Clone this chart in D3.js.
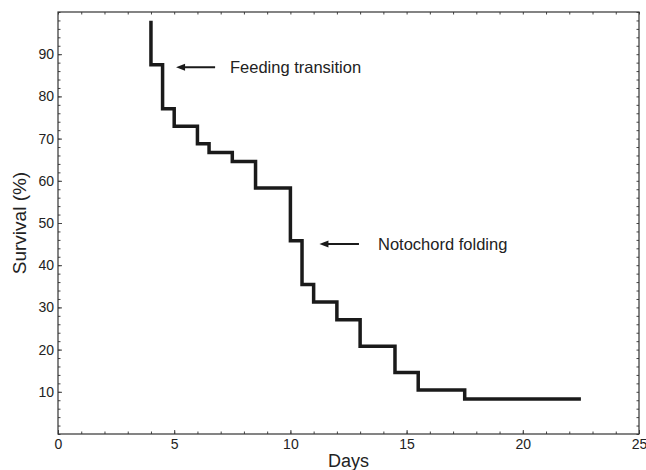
<!DOCTYPE html>
<html>
<head>
<meta charset="utf-8">
<script src="https://cdn.jsdelivr.net/npm/d3@7"></script>
<style>
  body { margin: 0; background: #fff; }
  svg { display: block; font-family: "Liberation Sans", Arial, Helvetica, sans-serif; }
</style>
</head>
<body>
<div id="chart"></div>
<script>
// Survival curve (step)
const days = [4, 4, 4.5, 5, 6, 6.5, 7.5, 8.5, 10, 10.5, 11, 12, 13, 14.5, 15.5, 17.5, 22.5];
const survival = [97.9, 87.5, 77.1, 72.9, 68.8, 66.7, 64.6, 58.3, 45.8, 35.4, 31.3, 27.1, 20.8, 14.6, 10.4, 8.3, 8.3];

const xTicks = [0, 5, 10, 15, 20, 25];
const yTicks = [10, 20, 30, 40, 50, 60, 70, 80, 90];

// annotations: label, arrow tail/head (days), arrow level (survival), text start (days)
const noteLabels = ["Feeding transition", "Notochord folding"];
const noteTail = [6.76, 12.95];
const noteHead = [5.08, 11.25];
const noteLevel = [86.9, 45.0];
const noteTextX = [7.4, 13.77];

const W = 646, H = 470;
const margin = {top: 12, right: 7, bottom: 36, left: 58};
const width = W - margin.left - margin.right;
const height = H - margin.top - margin.bottom;

const svg = d3.select("#chart").append("svg")
	.attr("width", W)
	.attr("height", H);

const g = svg.append("g").attr("transform", `translate(${margin.left},${margin.top})`);

const x = d3.scaleLinear().domain([0, 25]).range([0, width]);
const y = d3.scaleLinear().domain([0, 100]).range([height, 0]);

const minorX = d3.range(0, 26, 1);
const minorY = d3.range(0, 101, 2);

function styleAxis(sel) {
	sel.select(".domain").remove();
	sel.selectAll(".tick line").attr("stroke", "#444").attr("stroke-width", 1);
	sel.selectAll(".tick text").attr("fill", "#222").style("font-size", "14px");
}

// minor ticks on all four sides (pointing inward)
g.append("g").attr("transform", `translate(0,${height})`)
	.call(d3.axisBottom(x).tickValues(minorX).tickSize(-2.5).tickFormat(""))
	.call(styleAxis);
g.append("g")
	.call(d3.axisTop(x).tickValues(minorX).tickSize(-2.5).tickFormat(""))
	.call(styleAxis);
g.append("g")
	.call(d3.axisLeft(y).tickValues(minorY).tickSize(-2.5).tickFormat(""))
	.call(styleAxis);
g.append("g").attr("transform", `translate(${width},0)`)
	.call(d3.axisRight(y).tickValues(minorY).tickSize(-2.5).tickFormat(""))
	.call(styleAxis);

// major ticks with labels
g.append("g").attr("transform", `translate(0,${height})`)
	.call(d3.axisBottom(x).tickValues(xTicks).tickSize(-4).tickPadding(5).tickFormat(d3.format("d")))
	.call(styleAxis);
g.append("g")
	.call(d3.axisLeft(y).tickValues(yTicks).tickSize(-4).tickPadding(4).tickFormat(d3.format("d")))
	.call(styleAxis);

// frame
g.append("rect")
	.attr("width", width).attr("height", height)
	.attr("fill", "none").attr("stroke", "#333").attr("stroke-width", 1.2);

// survival step line
const pts = days.map((d, i) => [d, survival[i]]);
g.append("path")
	.datum(pts)
	.attr("fill", "none")
	.attr("stroke", "#1a1a1a")
	.attr("stroke-width", 3.5)
	.attr("stroke-linejoin", "miter")
	.attr("d", d3.line().x(d => x(d[0])).y(d => y(d[1])).curve(d3.curveStepAfter));

// annotations: arrow pointing left at the curve, label to the right
noteLabels.forEach((label, i) => {
	const yy = y(noteLevel[i]);
	const hx = x(noteHead[i]);
	g.append("line")
		.attr("x1", x(noteTail[i])).attr("y1", yy)
		.attr("x2", hx + 6).attr("y2", yy)
		.attr("stroke", "#1a1a1a").attr("stroke-width", 2);
	g.append("path")
		.attr("d", `M${hx},${yy} L${hx + 9},${yy - 3.5} L${hx + 9},${yy + 3.5} Z`)
		.attr("fill", "#1a1a1a");
	g.append("text")
		.attr("x", x(noteTextX[i]))
		.attr("y", yy + 5.5)
		.attr("fill", "#222")
		.style("font-size", "16.5px")
		.text(label);
});

// axis titles
svg.append("text")
	.attr("x", margin.left + width / 2)
	.attr("y", 467)
	.attr("text-anchor", "middle")
	.attr("fill", "#222")
	.style("font-size", "18px")
	.text("Days");

svg.append("text")
	.attr("transform", `translate(26,${margin.top + height / 2}) rotate(-90)`)
	.attr("text-anchor", "middle")
	.attr("fill", "#222")
	.style("font-size", "19px")
	.text("Survival (%)");
</script>
</body>
</html>
